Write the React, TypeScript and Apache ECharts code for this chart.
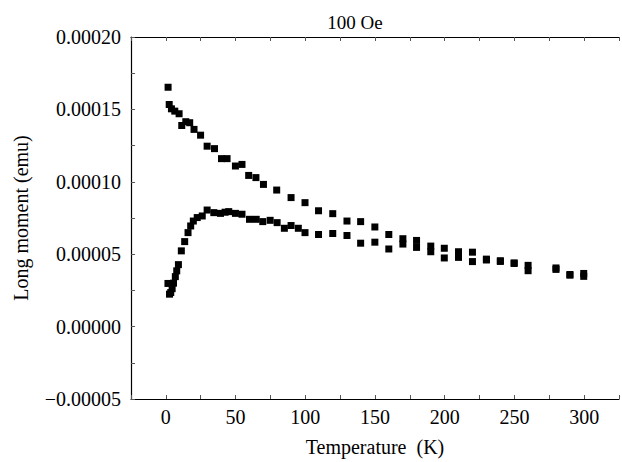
import React, { useEffect, useRef } from "react";
import * as echarts from "echarts";

const titleText = "100 Oe";
const xName = "Temperature  (K)";
const yName = "Long moment (emu)";

// Field-cooled branch (upper)
const fcTemps = [1.6, 2.4, 4, 6.4, 9.5, 11.4, 14.3, 17.1, 20.2, 24.9, 29.6, 34.9, 39.9, 43.9, 49.9, 54.6, 59.4, 64.6, 70, 79.5, 89.8, 99.8, 109.5, 119.7, 129.9, 139.7, 149.9, 159.9, 170, 179.8, 190, 199.7, 209.9, 219.9, 229.9, 239.9, 249.8, 259.8, 279.8, 289.8, 299.7];
const fcMoments = [0.0001653, 0.0001534, 0.0001504, 0.0001488, 0.000147, 0.0001389, 0.0001415, 0.0001408, 0.0001362, 0.0001322, 0.0001246, 0.0001229, 0.000116, 0.000116, 0.0001109, 0.000112, 0.0001044, 0.0001029, 0.0000982, 0.0000943, 0.0000891, 0.0000856, 0.00008, 0.000078, 0.0000729, 0.0000725, 0.0000688, 0.0000636, 0.0000607, 0.0000595, 0.0000556, 0.0000541, 0.0000517, 0.0000514, 0.0000466, 0.0000455, 0.000044, 0.0000423, 0.0000405, 0.000036, 0.0000367];

// Zero-field-cooled branch (lower)
const zfcTemps = [1.5, 2.6, 3.5, 4.5, 5.5, 6.8, 7.8, 9, 11.1, 13.5, 15.9, 17.8, 19.7, 22.5, 26.1, 29.6, 34.4, 39.2, 42.5, 45.1, 49.9, 54.6, 60, 64.8, 69.5, 74.8, 79.8, 85, 89.8, 95, 99.8, 109.5, 119.7, 129.9, 139.7, 149.9, 159.9, 170, 179.8, 190, 199.7, 209.9, 219.9, 229.9, 239.9, 249.8, 259.8, 279.8, 289.8, 299.7];
const zfcMoments = [0.0000298, 0.0000224, 0.0000235, 0.0000262, 0.00003, 0.0000345, 0.0000385, 0.0000428, 0.0000523, 0.0000587, 0.0000649, 0.0000695, 0.0000729, 0.0000753, 0.0000764, 0.0000805, 0.0000787, 0.0000782, 0.000079, 0.0000794, 0.0000782, 0.0000776, 0.0000741, 0.0000741, 0.0000725, 0.0000734, 0.0000718, 0.0000679, 0.0000698, 0.0000679, 0.0000649, 0.0000636, 0.0000643, 0.0000629, 0.0000576, 0.0000583, 0.0000536, 0.000057, 0.0000547, 0.0000517, 0.0000474, 0.0000478, 0.0000449, 0.000046, 0.000045, 0.0000436, 0.0000386, 0.0000395, 0.0000355, 0.0000347];

const xMin = -25;
const xMax = 325;
const xStep = 25;
const yMin = -0.00005;
const yMax = 0.0002;
const yStep = 0.000025;

const FONT = "'Liberation Serif', 'DejaVu Serif', serif";

export default function App() {
  const ref = useRef<HTMLDivElement>(null);
  useEffect(() => {
    if (!ref.current) return;
    const chart = echarts.init(ref.current, undefined, { renderer: "svg" });
    const axisLine = { show: true, onZero: false, lineStyle: { color: "#000", width: 1.2 } };
    const axisTick = { show: true, inside: true, length: 4, lineStyle: { color: "#555", width: 1 } };
    const xLabel = (v: number) => {
      const r = Math.round(v);
      if (r < 0 || r > 300 || r % 50 !== 0) return "";
      return String(r);
    };
    const yLabel = (v: number) => {
      const k = Math.round(v / yStep);
      if (k % 2 !== 0) return "";
      const s = (k * yStep).toFixed(5);
      return s.startsWith("-") ? "\u2212" + s.slice(1) : s;
    };
    const marker = { symbol: "rect", symbolSize: 7, itemStyle: { color: "#000", opacity: 1 } };
    chart.setOption({
      animation: false,
      backgroundColor: "#fff",
      title: {
        text: titleText,
        left: 350,
        top: 8,
        textAlign: "center",
        textStyle: { fontFamily: FONT, fontSize: 19, fontWeight: "normal", color: "#000" },
      },
      grid: { left: 131, right: 0, top: 37, bottom: 62, containLabel: false },
      xAxis: [
        {
          type: "value",
          position: "bottom",
          min: xMin,
          max: xMax,
          interval: xStep,
          name: xName,
          nameLocation: "middle",
          nameGap: 38,
          nameTextStyle: { fontFamily: FONT, fontSize: 20, color: "#000" },
          axisLine,
          axisTick,
          splitLine: { show: false },
          axisLabel: { formatter: xLabel, fontFamily: FONT, fontSize: 20, color: "#000", margin: 8 },
        },
        {
          type: "value",
          position: "top",
          min: xMin,
          max: xMax,
          interval: xStep,
          axisLine,
          axisTick,
          splitLine: { show: false },
          axisLabel: { show: false },
        },
      ],
      yAxis: {
        type: "value",
        min: yMin,
        max: yMax,
        interval: yStep,
        name: yName,
        nameLocation: "middle",
        nameGap: 100,
        nameTextStyle: { fontFamily: FONT, fontSize: 20, color: "#000" },
        axisLine,
        axisTick,
        splitLine: { show: false },
        axisLabel: { formatter: yLabel, fontFamily: FONT, fontSize: 20, color: "#000", margin: 10 },
      },
      series: [
        {
          name: "FC",
          type: "scatter",
          xAxisIndex: 0,
          ...marker,
          data: fcTemps.map((t, i) => [t, fcMoments[i]]),
        },
        {
          name: "ZFC",
          type: "scatter",
          xAxisIndex: 0,
          ...marker,
          data: zfcTemps.map((t, i) => [t, zfcMoments[i]]),
        },
      ],
    });
    return () => chart.dispose();
  }, []);
  return <div ref={ref} style={{ position: "fixed", left: 0, top: 0, width: 622, height: 462 }} />;
}
